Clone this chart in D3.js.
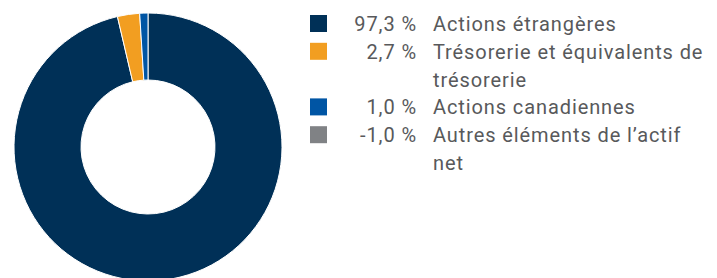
<!DOCTYPE html>
<html>
<head>
<meta charset="utf-8">
<script src="https://cdn.jsdelivr.net/npm/d3@7"></script>
<style>
  body { margin: 0; background: #fff; }
  text { font-family: Roboto, "Open Sans", sans-serif; }
</style>
</head>
<body>
<div id="chart"></div>
<script>
// data
var categories = ["Actions étrangères", "Trésorerie et équivalents de trésorerie", "Actions canadiennes", "Autres éléments de l\u2019actif net"];
var values = [97.3, 2.7, 1.0, -1.0];
var valueLabels = ["97,3 %", "2,7 %", "1,0 %", "-1,0 %"];
var colors = ["#003057", "#F29E21", "#0055A4", "#808285"];

var width = 717, height = 278;

var svg = d3.select("#chart")
    .append("svg")
    .attr("width", width)
    .attr("height", height);

// donut (negative values are not drawn)
var cx = 148, cy = 147, outerR = 134, innerR = 67;

var pie = d3.pie()
    .sort(null)
    .value(function(d) { return Math.max(0, d.v); });

var arc = d3.arc()
    .innerRadius(innerR)
    .outerRadius(outerR);

var pieData = pie(values.map(function(v, i) { return { v: v, c: colors[i] }; }));

svg.append("g")
    .attr("transform", "translate(" + cx + "," + cy + ")")
    .selectAll("path")
    .data(pieData.filter(function(d) { return d.data.v > 0; }))
    .enter()
    .append("path")
    .attr("d", arc)
    .attr("fill", function(d) { return d.data.c; })
    .attr("stroke", "#fff")
    .attr("stroke-width", 1);

// legend
var lineH = 27.8, base0 = 31;
var sqX = 310, sqSize = 17, numRight = 417, labelX = 433, maxW = 275;

var legend = svg.append("g")
    .style("font-size", "20px")
    .style("letter-spacing", "0.9px");
var line = 0;

categories.forEach(function(cat, i) {
    var y = base0 + line * lineH;

    legend.append("rect")
        .attr("x", sqX)
        .attr("y", y - sqSize + 1)
        .attr("width", sqSize)
        .attr("height", sqSize)
        .attr("fill", colors[i]);

    legend.append("text")
        .attr("x", numRight)
        .attr("y", y)
        .attr("text-anchor", "end")
        .attr("fill", "#58595b")
        .text(valueLabels[i]);

    // word wrap the label
    var t = legend.append("text")
        .attr("x", labelX)
        .attr("y", y)
        .attr("fill", "#58595b");
    var words = cat.split(" "), cur = [], nLines = 1;
    var ts = t.append("tspan").attr("x", labelX).attr("y", y);
    words.forEach(function(w) {
        cur.push(w);
        ts.text(cur.join(" "));
        if (ts.node().getComputedTextLength() > maxW && cur.length > 1) {
            cur.pop();
            ts.text(cur.join(" "));
            cur = [w];
            ts = t.append("tspan").attr("x", labelX).attr("y", y + nLines * lineH).text(w);
            nLines++;
        }
    });
    line += nLines;
});
</script>
</body>
</html>
